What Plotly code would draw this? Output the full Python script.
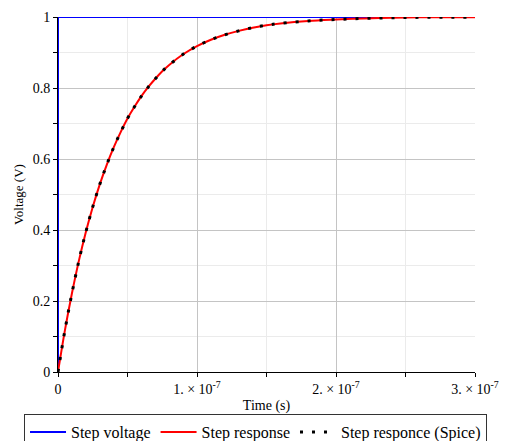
import plotly.graph_objects as go

# Time points (s) and step-response values
t_ns = [0, 5, 10, 15, 20, 25, 30, 35, 40, 45, 50, 55, 60, 65, 70, 75, 80, 90,
        100, 110, 120, 130, 140, 150, 160, 180, 200, 220, 240, 260, 280, 300]
response = [0.0, 0.118, 0.221, 0.313, 0.394, 0.465, 0.528, 0.583, 0.632, 0.675,
            0.714, 0.747, 0.777, 0.803, 0.826, 0.847, 0.865, 0.895, 0.918, 0.936,
            0.950, 0.961, 0.970, 0.977, 0.982, 0.989, 0.993, 0.996, 0.998, 0.999,
            0.999, 0.9994]
spice = list(response)
time_s = [v * 1e-9 for v in t_ns]

step_t = [0.0, 0.0, 3e-7]
step_v = [0.0, 1.0, 1.0]

x_tickvals = [0, 1e-7, 2e-7, 3e-7]
x_ticktext = ["0", "1. \u00d7 10<sup>-7</sup>", "2. \u00d7 10<sup>-7</sup>", "3. \u00d7 10<sup>-7</sup>"]
y_tickvals = [0, 0.2, 0.4, 0.6, 0.8, 1]
y_ticktext = ["0", "0.2", "0.4", "0.6", "0.8", "1"]

FONT = "Times New Roman, Liberation Serif, serif"

fig = go.Figure()
fig.add_trace(go.Scatter(x=step_t, y=step_v, mode="lines", name="Step voltage",
                         line=dict(color="#0000ff", width=2)))
fig.add_trace(go.Scatter(x=time_s, y=response, mode="lines", name="Step response",
                         line=dict(color="#ff0000", width=2), line_shape="spline"))
fig.add_trace(go.Scatter(x=time_s, y=spice, mode="lines", name="Step responce (Spice)",
                         line=dict(color="#000000", width=3, dash="3px,9px"), line_shape="spline"))

fig.update_layout(
    width=509, height=441,
    margin=dict(l=58, r=34, t=17, b=69, autoexpand=False),
    paper_bgcolor="white", plot_bgcolor="white",
    font=dict(family=FONT, size=14, color="black"),
    showlegend=True,
    legend=dict(orientation="h", x=-0.0815, xanchor="left", y=-0.1183, yanchor="top",
                bordercolor="#333333", borderwidth=1, font=dict(family=FONT, size=16),
                itemwidth=36, tracegroupgap=0, bgcolor="white"),
)
fig.update_xaxes(
    range=[0, 3e-7], tickvals=x_tickvals, ticktext=x_ticktext,
    showline=True, linecolor="black", linewidth=1,
    ticks="outside", ticklen=4, tickcolor="black",
    showgrid=True, gridcolor="#c4c4c4", gridwidth=1, zeroline=False,
    minor=dict(dtick=0.5e-7, tick0=0, ticks="outside", ticklen=4, tickcolor="black",
               showgrid=True, gridcolor="#ebebeb"),
    title=dict(text="Time (s)", font=dict(size=14), standoff=4),
)
fig.update_yaxes(
    range=[0, 1], tickvals=y_tickvals, ticktext=y_ticktext,
    showline=True, linecolor="black", linewidth=1,
    ticks="outside", ticklen=4, tickcolor="black",
    showgrid=True, gridcolor="#c4c4c4", gridwidth=1, zeroline=False,
    minor=dict(dtick=0.1, tick0=0, ticks="outside", ticklen=4, tickcolor="black",
               showgrid=True, gridcolor="#ebebeb"),
    title=dict(text="Voltage (V)", font=dict(size=13), standoff=6),
)

fig.write_html("out.html")
